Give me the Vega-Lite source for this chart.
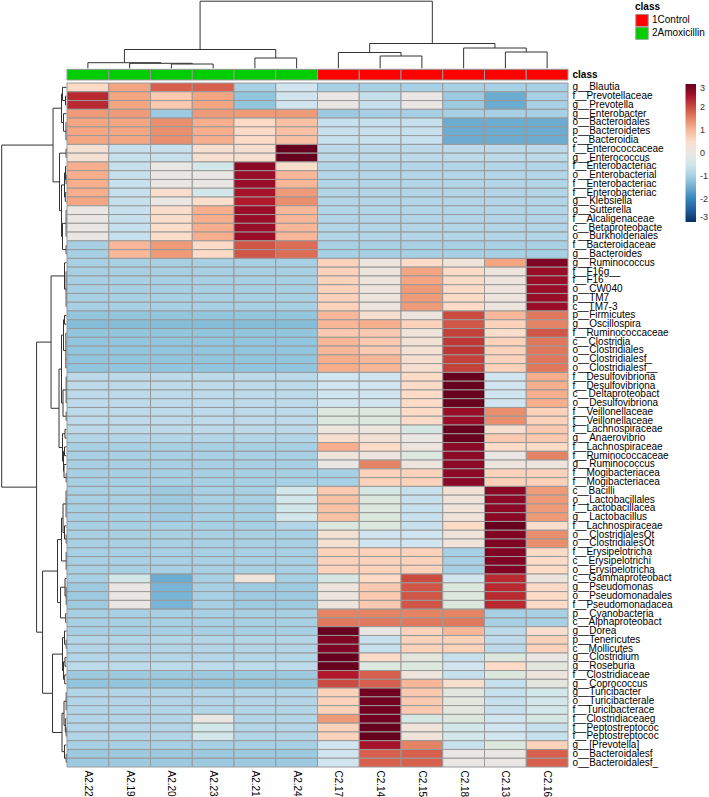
{
"$schema":"https://vega.github.io/schema/vega-lite/v6.json",
"width":568,"height":767,
"autosize":{"type":"none"},
"padding":{"left":0,"top":0,"right":141,"bottom":30},
"background":"white",
"config":{"view":{"stroke":null},"font":"Liberation Sans"},
"datasets":{
"coltree":[
{"x":2.5,"x2":3.5,"y":4.3,"y2":4.3},{"x":2.5,"x2":2.5,"y":0,"y2":4.3},{"x":3.5,"x2":3.5,"y":0,"y2":4.3},
{"x":1.5,"x2":3.0,"y":5.0,"y2":5.0},{"x":1.5,"x2":1.5,"y":0,"y2":5.0},{"x":3.0,"x2":3.0,"y":4.3,"y2":5.0},
{"x":0.5,"x2":2.25,"y":5.6,"y2":5.6},{"x":0.5,"x2":0.5,"y":0,"y2":5.6},{"x":2.25,"x2":2.25,"y":5.0,"y2":5.6},
{"x":4.5,"x2":5.5,"y":10.3,"y2":10.3},{"x":4.5,"x2":4.5,"y":0,"y2":10.3},{"x":5.5,"x2":5.5,"y":0,"y2":10.3},
{"x":1.375,"x2":5.0,"y":18.8,"y2":18.8},{"x":1.375,"x2":1.375,"y":5.6,"y2":18.8},{"x":5.0,"x2":5.0,"y":10.3,"y2":18.8},
{"x":7.5,"x2":8.5,"y":12.3,"y2":12.3},{"x":7.5,"x2":7.5,"y":0,"y2":12.3},{"x":8.5,"x2":8.5,"y":0,"y2":12.3},
{"x":6.5,"x2":8.0,"y":15.8,"y2":15.8},{"x":6.5,"x2":6.5,"y":0,"y2":15.8},{"x":8.0,"x2":8.0,"y":12.3,"y2":15.8},
{"x":10.5,"x2":11.5,"y":16.3,"y2":16.3},{"x":10.5,"x2":10.5,"y":0,"y2":16.3},{"x":11.5,"x2":11.5,"y":0,"y2":16.3},
{"x":9.5,"x2":11.0,"y":20.3,"y2":20.3},{"x":9.5,"x2":9.5,"y":0,"y2":20.3},{"x":11.0,"x2":11.0,"y":16.3,"y2":20.3},
{"x":7.25,"x2":10.25,"y":24.8,"y2":24.8},{"x":7.25,"x2":7.25,"y":15.8,"y2":24.8},{"x":10.25,"x2":10.25,"y":20.3,"y2":24.8},
{"x":3.1875,"x2":8.75,"y":67.1,"y2":67.1},{"x":3.1875,"x2":3.1875,"y":18.8,"y2":67.1},{"x":8.75,"x2":8.75,"y":24.8,"y2":67.1}
],
"rowtree":[
{"x":0,"x2":1,"y":1.5,"y2":1.5},{"x":0,"x2":1,"y":2.5,"y2":2.5},{"x":1,"x2":1,"y":1.5,"y2":2.5},
{"x":0,"x2":4,"y":0.5,"y2":0.5},{"x":1,"x2":4,"y":2,"y2":2},{"x":4,"x2":4,"y":0.5,"y2":2},
{"x":0,"x2":0.5,"y":4.5,"y2":4.5},{"x":0,"x2":0.5,"y":5.5,"y2":5.5},{"x":0,"x2":0.5,"y":6.5,"y2":6.5},{"x":0.5,"x2":0.5,"y":4.5,"y2":6.5},
{"x":0,"x2":3,"y":3.5,"y2":3.5},{"x":0.5,"x2":3,"y":5.5,"y2":5.5},{"x":3,"x2":3,"y":3.5,"y2":5.5},
{"x":4,"x2":5,"y":1.25,"y2":1.25},{"x":3,"x2":5,"y":4.5,"y2":4.5},{"x":5,"x2":5,"y":1.25,"y2":4.5},
{"x":0,"x2":0.4,"y":7.5,"y2":7.5},{"x":0,"x2":0.4,"y":8.5,"y2":8.5},{"x":0.4,"x2":0.4,"y":7.5,"y2":8.5},
{"x":0,"x2":0.4,"y":10.5,"y2":10.5},{"x":0,"x2":0.4,"y":11.5,"y2":11.5},{"x":0.4,"x2":0.4,"y":10.5,"y2":11.5},
{"x":0,"x2":1,"y":9.5,"y2":9.5},{"x":0.4,"x2":1,"y":11,"y2":11},{"x":1,"x2":1,"y":9.5,"y2":11},
{"x":0,"x2":1.2,"y":12.5,"y2":12.5},{"x":0,"x2":1.2,"y":13.5,"y2":13.5},{"x":1.2,"x2":1.2,"y":12.5,"y2":13.5},
{"x":1,"x2":2,"y":10.25,"y2":10.25},{"x":1.2,"x2":2,"y":13,"y2":13},{"x":2,"x2":2,"y":10.25,"y2":13},
{"x":0,"x2":0.4,"y":14.5,"y2":14.5},{"x":0,"x2":0.4,"y":15.5,"y2":15.5},{"x":0,"x2":0.4,"y":16.5,"y2":16.5},{"x":0,"x2":0.4,"y":17.5,"y2":17.5},{"x":0.4,"x2":0.4,"y":14.5,"y2":17.5},
{"x":0,"x2":0.4,"y":18.5,"y2":18.5},{"x":0,"x2":0.4,"y":19.5,"y2":19.5},{"x":0.4,"x2":0.4,"y":18.5,"y2":19.5},
{"x":0.4,"x2":4,"y":16,"y2":16},{"x":0.4,"x2":4,"y":19,"y2":19},{"x":4,"x2":4,"y":16,"y2":19},
{"x":2,"x2":5,"y":11.625,"y2":11.625},{"x":4,"x2":5,"y":17.5,"y2":17.5},{"x":5,"x2":5,"y":11.625,"y2":17.5},
{"x":0.4,"x2":7,"y":8,"y2":8},{"x":5,"x2":7,"y":14.5625,"y2":14.5625},{"x":7,"x2":7,"y":8,"y2":14.5625},
{"x":5,"x2":13.5,"y":2.875,"y2":2.875},{"x":7,"x2":13.5,"y":11.281,"y2":11.281},{"x":13.5,"x2":13.5,"y":2.875,"y2":11.281},
{"x":0,"x2":0.4,"y":21.5,"y2":21.5},{"x":0,"x2":0.4,"y":22.5,"y2":22.5},{"x":0,"x2":0.4,"y":23.5,"y2":23.5},{"x":0,"x2":0.4,"y":24.5,"y2":24.5},{"x":0,"x2":0.4,"y":25.5,"y2":25.5},{"x":0.4,"x2":0.4,"y":21.5,"y2":25.5},
{"x":0,"x2":2,"y":20.5,"y2":20.5},{"x":0.4,"x2":2,"y":23.5,"y2":23.5},{"x":2,"x2":2,"y":20.5,"y2":23.5},
{"x":0,"x2":2,"y":26.5,"y2":26.5},{"x":0,"x2":2,"y":27.5,"y2":27.5},{"x":2,"x2":2,"y":26.5,"y2":27.5},
{"x":0,"x2":0.6,"y":28.5,"y2":28.5},{"x":0,"x2":0.6,"y":29.5,"y2":29.5},{"x":0,"x2":0.6,"y":30.5,"y2":30.5},{"x":0,"x2":0.6,"y":31.5,"y2":31.5},{"x":0,"x2":0.6,"y":32.5,"y2":32.5},{"x":0.6,"x2":0.6,"y":28.5,"y2":32.5},
{"x":2,"x2":3,"y":27,"y2":27},{"x":0.6,"x2":3,"y":30.5,"y2":30.5},{"x":3,"x2":3,"y":27,"y2":30.5},
{"x":0,"x2":0.3,"y":33.5,"y2":33.5},{"x":0,"x2":0.3,"y":34.5,"y2":34.5},{"x":0,"x2":0.3,"y":35.5,"y2":35.5},{"x":0,"x2":0.3,"y":36.5,"y2":36.5},{"x":0.3,"x2":0.3,"y":33.5,"y2":36.5},
{"x":0,"x2":0.3,"y":37.5,"y2":37.5},{"x":0,"x2":0.3,"y":38.5,"y2":38.5},{"x":0.3,"x2":0.3,"y":37.5,"y2":38.5},
{"x":0.3,"x2":3.5,"y":35,"y2":35},{"x":0.3,"x2":3.5,"y":38,"y2":38},{"x":3.5,"x2":3.5,"y":35,"y2":38},
{"x":3,"x2":5,"y":28.75,"y2":28.75},{"x":3.5,"x2":5,"y":36.5,"y2":36.5},{"x":5,"x2":5,"y":28.75,"y2":36.5},
{"x":0,"x2":1.5,"y":39.5,"y2":39.5},{"x":0,"x2":1.5,"y":40.5,"y2":40.5},{"x":1.5,"x2":1.5,"y":39.5,"y2":40.5},
{"x":0,"x2":2,"y":41.5,"y2":41.5},{"x":0,"x2":2,"y":42.5,"y2":42.5},{"x":2,"x2":2,"y":41.5,"y2":42.5},
{"x":0,"x2":0.3,"y":44.5,"y2":44.5},{"x":0,"x2":0.3,"y":45.5,"y2":45.5},{"x":0.3,"x2":0.3,"y":44.5,"y2":45.5},
{"x":0,"x2":2.5,"y":43.5,"y2":43.5},{"x":0.3,"x2":2.5,"y":45,"y2":45},{"x":2.5,"x2":2.5,"y":43.5,"y2":45},
{"x":2,"x2":3,"y":42,"y2":42},{"x":2.5,"x2":3,"y":44.25,"y2":44.25},{"x":3,"x2":3,"y":42,"y2":44.25},
{"x":1.5,"x2":4,"y":40,"y2":40},{"x":3,"x2":4,"y":43.125,"y2":43.125},{"x":4,"x2":4,"y":40,"y2":43.125},
{"x":5,"x2":7.5,"y":32.625,"y2":32.625},{"x":4,"x2":7.5,"y":41.5625,"y2":41.5625},{"x":7.5,"x2":7.5,"y":32.625,"y2":41.5625},
{"x":2,"x2":15.5,"y":22,"y2":22},{"x":7.5,"x2":15.5,"y":37.094,"y2":37.094},{"x":15.5,"x2":15.5,"y":22,"y2":37.094},
{"x":0,"x2":0.4,"y":46.5,"y2":46.5},{"x":0,"x2":0.4,"y":47.5,"y2":47.5},{"x":0,"x2":0.4,"y":48.5,"y2":48.5},{"x":0,"x2":0.4,"y":49.5,"y2":49.5},{"x":0.4,"x2":0.4,"y":46.5,"y2":49.5},
{"x":0,"x2":0.3,"y":51.5,"y2":51.5},{"x":0,"x2":0.3,"y":52.5,"y2":52.5},{"x":0.3,"x2":0.3,"y":51.5,"y2":52.5},
{"x":0,"x2":2,"y":50.5,"y2":50.5},{"x":0.3,"x2":2,"y":52,"y2":52},{"x":2,"x2":2,"y":50.5,"y2":52},
{"x":0.4,"x2":3.5,"y":48,"y2":48},{"x":2,"x2":3.5,"y":51.25,"y2":51.25},{"x":3.5,"x2":3.5,"y":48,"y2":51.25},
{"x":0,"x2":0.3,"y":53.5,"y2":53.5},{"x":0,"x2":0.3,"y":54.5,"y2":54.5},{"x":0,"x2":0.3,"y":55.5,"y2":55.5},{"x":0.3,"x2":0.3,"y":53.5,"y2":55.5},
{"x":3.5,"x2":5,"y":49.625,"y2":49.625},{"x":0.3,"x2":5,"y":54.5,"y2":54.5},{"x":5,"x2":5,"y":49.625,"y2":54.5},
{"x":0,"x2":0.3,"y":57.5,"y2":57.5},{"x":0,"x2":0.3,"y":58.5,"y2":58.5},{"x":0,"x2":0.3,"y":59.5,"y2":59.5},{"x":0.3,"x2":0.3,"y":57.5,"y2":59.5},
{"x":0,"x2":1.5,"y":56.5,"y2":56.5},{"x":0.3,"x2":1.5,"y":58.5,"y2":58.5},{"x":1.5,"x2":1.5,"y":56.5,"y2":58.5},
{"x":0,"x2":0.8,"y":60.5,"y2":60.5},{"x":0,"x2":0.8,"y":61.5,"y2":61.5},{"x":0.8,"x2":0.8,"y":60.5,"y2":61.5},
{"x":1.5,"x2":6,"y":57.5,"y2":57.5},{"x":0.8,"x2":6,"y":61,"y2":61},{"x":6,"x2":6,"y":57.5,"y2":61},
{"x":5,"x2":9,"y":52.0625,"y2":52.0625},{"x":6,"x2":9,"y":59.25,"y2":59.25},{"x":9,"x2":9,"y":52.0625,"y2":59.25},
{"x":0,"x2":0.3,"y":63.5,"y2":63.5},{"x":0,"x2":0.3,"y":64.5,"y2":64.5},{"x":0.3,"x2":0.3,"y":63.5,"y2":64.5},
{"x":0,"x2":2,"y":62.5,"y2":62.5},{"x":0.3,"x2":2,"y":64,"y2":64},{"x":2,"x2":2,"y":62.5,"y2":64},
{"x":0,"x2":1.5,"y":65.5,"y2":65.5},{"x":0,"x2":1.5,"y":66.5,"y2":66.5},{"x":1.5,"x2":1.5,"y":65.5,"y2":66.5},
{"x":0,"x2":1.8,"y":67.5,"y2":67.5},{"x":0,"x2":1.8,"y":68.5,"y2":68.5},{"x":1.8,"x2":1.8,"y":67.5,"y2":68.5},
{"x":1.5,"x2":3,"y":66,"y2":66},{"x":1.8,"x2":3,"y":68,"y2":68},{"x":3,"x2":3,"y":66,"y2":68},
{"x":2,"x2":4,"y":63.25,"y2":63.25},{"x":3,"x2":4,"y":67,"y2":67},{"x":4,"x2":4,"y":63.25,"y2":67},
{"x":0,"x2":0.3,"y":69.5,"y2":69.5},{"x":0,"x2":0.3,"y":70.5,"y2":70.5},{"x":0,"x2":0.3,"y":71.5,"y2":71.5},{"x":0.3,"x2":0.3,"y":69.5,"y2":71.5},
{"x":0,"x2":0.3,"y":73.5,"y2":73.5},{"x":0,"x2":0.3,"y":74.5,"y2":74.5},{"x":0.3,"x2":0.3,"y":73.5,"y2":74.5},
{"x":0,"x2":1.2,"y":72.5,"y2":72.5},{"x":0.3,"x2":1.2,"y":74,"y2":74},{"x":1.2,"x2":1.2,"y":72.5,"y2":74},
{"x":0.3,"x2":2.5,"y":70.5,"y2":70.5},{"x":1.2,"x2":2.5,"y":73.25,"y2":73.25},{"x":2.5,"x2":2.5,"y":70.5,"y2":73.25},
{"x":0,"x2":0.3,"y":76.5,"y2":76.5},{"x":0,"x2":0.3,"y":77.5,"y2":77.5},{"x":0.3,"x2":0.3,"y":76.5,"y2":77.5},
{"x":0,"x2":2,"y":75.5,"y2":75.5},{"x":0.3,"x2":2,"y":77,"y2":77},{"x":2,"x2":2,"y":75.5,"y2":77},
{"x":2.5,"x2":4.5,"y":71.875,"y2":71.875},{"x":2,"x2":4.5,"y":76.25,"y2":76.25},{"x":4.5,"x2":4.5,"y":71.875,"y2":76.25},
{"x":4,"x2":14,"y":65.125,"y2":65.125},{"x":4.5,"x2":14,"y":74.0625,"y2":74.0625},{"x":14,"x2":14,"y":65.125,"y2":74.0625},
{"x":9,"x2":24,"y":55.656,"y2":55.656},{"x":14,"x2":24,"y":69.594,"y2":69.594},{"x":24,"x2":24,"y":55.656,"y2":69.594},
{"x":15.5,"x2":30,"y":29.547,"y2":29.547},{"x":24,"x2":30,"y":62.625,"y2":62.625},{"x":30,"x2":30,"y":29.547,"y2":62.625},
{"x":13.5,"x2":65,"y":7.078,"y2":7.078},{"x":30,"x2":65,"y":46.086,"y2":46.086},{"x":65,"x2":65,"y":7.078,"y2":46.086}
],
"cls":[
{"c":"A2.22","g":"2Amoxicillin","k":"class"},{"c":"A2.19","g":"2Amoxicillin","k":"class"},{"c":"A2.20","g":"2Amoxicillin","k":"class"},{"c":"A2.23","g":"2Amoxicillin","k":"class"},{"c":"A2.21","g":"2Amoxicillin","k":"class"},{"c":"A2.24","g":"2Amoxicillin","k":"class"},
{"c":"C2.17","g":"1Control","k":"class"},{"c":"C2.14","g":"1Control","k":"class"},{"c":"C2.15","g":"1Control","k":"class"},{"c":"C2.18","g":"1Control","k":"class"},{"c":"C2.13","g":"1Control","k":"class"},{"c":"C2.16","g":"1Control","k":"class"}
],
"cells":[
{"t":"00|g__Blautia","c":"A2.22","v":0.6},{"t":"00|g__Blautia","c":"A2.19","v":1.2},{"t":"00|g__Blautia","c":"A2.20","v":1.8},{"t":"00|g__Blautia","c":"A2.23","v":1.8},{"t":"00|g__Blautia","c":"A2.21","v":-1.0},{"t":"00|g__Blautia","c":"A2.24","v":-0.6},{"t":"00|g__Blautia","c":"C2.17","v":-1.0},{"t":"00|g__Blautia","c":"C2.14","v":-1.0},{"t":"00|g__Blautia","c":"C2.15","v":-1.0},{"t":"00|g__Blautia","c":"C2.18","v":-1.0},{"t":"00|g__Blautia","c":"C2.13","v":-1.0},{"t":"00|g__Blautia","c":"C2.16","v":-1.0},
{"t":"01|f__Prevotellaceae","c":"A2.22","v":2.3},{"t":"01|f__Prevotellaceae","c":"A2.19","v":1.2},{"t":"01|f__Prevotellaceae","c":"A2.20","v":0.8},{"t":"01|f__Prevotellaceae","c":"A2.23","v":1.2},{"t":"01|f__Prevotellaceae","c":"A2.21","v":-1.2},{"t":"01|f__Prevotellaceae","c":"A2.24","v":-0.6},{"t":"01|f__Prevotellaceae","c":"C2.17","v":0.0},{"t":"01|f__Prevotellaceae","c":"C2.14","v":-0.7},{"t":"01|f__Prevotellaceae","c":"C2.15","v":0.0},{"t":"01|f__Prevotellaceae","c":"C2.18","v":-1.1},{"t":"01|f__Prevotellaceae","c":"C2.13","v":-1.5},{"t":"01|f__Prevotellaceae","c":"C2.16","v":-1.0},
{"t":"02|g__Prevotella","c":"A2.22","v":2.3},{"t":"02|g__Prevotella","c":"A2.19","v":1.2},{"t":"02|g__Prevotella","c":"A2.20","v":0.8},{"t":"02|g__Prevotella","c":"A2.23","v":1.2},{"t":"02|g__Prevotella","c":"A2.21","v":-1.2},{"t":"02|g__Prevotella","c":"A2.24","v":-0.6},{"t":"02|g__Prevotella","c":"C2.17","v":0.0},{"t":"02|g__Prevotella","c":"C2.14","v":-0.7},{"t":"02|g__Prevotella","c":"C2.15","v":0.0},{"t":"02|g__Prevotella","c":"C2.18","v":-1.1},{"t":"02|g__Prevotella","c":"C2.13","v":-1.5},{"t":"02|g__Prevotella","c":"C2.16","v":-1.0},
{"t":"03|g__Enterobacter","c":"A2.22","v":1.3},{"t":"03|g__Enterobacter","c":"A2.19","v":1.3},{"t":"03|g__Enterobacter","c":"A2.20","v":-1.1},{"t":"03|g__Enterobacter","c":"A2.23","v":1.3},{"t":"03|g__Enterobacter","c":"A2.21","v":1.3},{"t":"03|g__Enterobacter","c":"A2.24","v":1.3},{"t":"03|g__Enterobacter","c":"C2.17","v":-1.1},{"t":"03|g__Enterobacter","c":"C2.14","v":-1.0},{"t":"03|g__Enterobacter","c":"C2.15","v":-1.0},{"t":"03|g__Enterobacter","c":"C2.18","v":-1.0},{"t":"03|g__Enterobacter","c":"C2.13","v":-1.0},{"t":"03|g__Enterobacter","c":"C2.16","v":-1.0},
{"t":"04|o__Bacteroidales","c":"A2.22","v":1.2},{"t":"04|o__Bacteroidales","c":"A2.19","v":1.2},{"t":"04|o__Bacteroidales","c":"A2.20","v":1.4},{"t":"04|o__Bacteroidales","c":"A2.23","v":1.1},{"t":"04|o__Bacteroidales","c":"A2.21","v":0.6},{"t":"04|o__Bacteroidales","c":"A2.24","v":0.9},{"t":"04|o__Bacteroidales","c":"C2.17","v":-0.7},{"t":"04|o__Bacteroidales","c":"C2.14","v":-0.7},{"t":"04|o__Bacteroidales","c":"C2.15","v":-0.7},{"t":"04|o__Bacteroidales","c":"C2.18","v":-1.5},{"t":"04|o__Bacteroidales","c":"C2.13","v":-1.5},{"t":"04|o__Bacteroidales","c":"C2.16","v":-1.5},
{"t":"05|p__Bacteroidetes","c":"A2.22","v":1.2},{"t":"05|p__Bacteroidetes","c":"A2.19","v":1.2},{"t":"05|p__Bacteroidetes","c":"A2.20","v":1.4},{"t":"05|p__Bacteroidetes","c":"A2.23","v":1.1},{"t":"05|p__Bacteroidetes","c":"A2.21","v":0.6},{"t":"05|p__Bacteroidetes","c":"A2.24","v":0.9},{"t":"05|p__Bacteroidetes","c":"C2.17","v":-0.7},{"t":"05|p__Bacteroidetes","c":"C2.14","v":-0.7},{"t":"05|p__Bacteroidetes","c":"C2.15","v":-0.7},{"t":"05|p__Bacteroidetes","c":"C2.18","v":-1.5},{"t":"05|p__Bacteroidetes","c":"C2.13","v":-1.5},{"t":"05|p__Bacteroidetes","c":"C2.16","v":-1.5},
{"t":"06|c__Bacteroidia","c":"A2.22","v":1.2},{"t":"06|c__Bacteroidia","c":"A2.19","v":1.2},{"t":"06|c__Bacteroidia","c":"A2.20","v":1.4},{"t":"06|c__Bacteroidia","c":"A2.23","v":1.1},{"t":"06|c__Bacteroidia","c":"A2.21","v":0.6},{"t":"06|c__Bacteroidia","c":"A2.24","v":0.9},{"t":"06|c__Bacteroidia","c":"C2.17","v":-0.7},{"t":"06|c__Bacteroidia","c":"C2.14","v":-0.7},{"t":"06|c__Bacteroidia","c":"C2.15","v":-0.7},{"t":"06|c__Bacteroidia","c":"C2.18","v":-1.5},{"t":"06|c__Bacteroidia","c":"C2.13","v":-1.5},{"t":"06|c__Bacteroidia","c":"C2.16","v":-1.5},
{"t":"07|f__Enterococcaceae","c":"A2.22","v":0.3},{"t":"07|f__Enterococcaceae","c":"A2.19","v":-0.7},{"t":"07|f__Enterococcaceae","c":"A2.20","v":-0.7},{"t":"07|f__Enterococcaceae","c":"A2.23","v":0.4},{"t":"07|f__Enterococcaceae","c":"A2.21","v":0.4},{"t":"07|f__Enterococcaceae","c":"A2.24","v":3.0},{"t":"07|f__Enterococcaceae","c":"C2.17","v":-0.8},{"t":"07|f__Enterococcaceae","c":"C2.14","v":-0.8},{"t":"07|f__Enterococcaceae","c":"C2.15","v":-0.8},{"t":"07|f__Enterococcaceae","c":"C2.18","v":-0.8},{"t":"07|f__Enterococcaceae","c":"C2.13","v":-0.8},{"t":"07|f__Enterococcaceae","c":"C2.16","v":-0.8},
{"t":"08|g__Enterococcus","c":"A2.22","v":0.3},{"t":"08|g__Enterococcus","c":"A2.19","v":-0.7},{"t":"08|g__Enterococcus","c":"A2.20","v":-0.7},{"t":"08|g__Enterococcus","c":"A2.23","v":0.4},{"t":"08|g__Enterococcus","c":"A2.21","v":0.4},{"t":"08|g__Enterococcus","c":"A2.24","v":3.0},{"t":"08|g__Enterococcus","c":"C2.17","v":-0.8},{"t":"08|g__Enterococcus","c":"C2.14","v":-0.8},{"t":"08|g__Enterococcus","c":"C2.15","v":-0.8},{"t":"08|g__Enterococcus","c":"C2.18","v":-0.8},{"t":"08|g__Enterococcus","c":"C2.13","v":-0.8},{"t":"08|g__Enterococcus","c":"C2.16","v":-0.8},
{"t":"09|f__Enterobacteriac","c":"A2.22","v":1.1},{"t":"09|f__Enterobacteriac","c":"A2.19","v":-0.7},{"t":"09|f__Enterobacteriac","c":"A2.20","v":0.0},{"t":"09|f__Enterobacteriac","c":"A2.23","v":-0.5},{"t":"09|f__Enterobacteriac","c":"A2.21","v":2.7},{"t":"09|f__Enterobacteriac","c":"A2.24","v":0.5},{"t":"09|f__Enterobacteriac","c":"C2.17","v":-0.9},{"t":"09|f__Enterobacteriac","c":"C2.14","v":-0.9},{"t":"09|f__Enterobacteriac","c":"C2.15","v":-0.9},{"t":"09|f__Enterobacteriac","c":"C2.18","v":-0.9},{"t":"09|f__Enterobacteriac","c":"C2.13","v":-0.9},{"t":"09|f__Enterobacteriac","c":"C2.16","v":-0.9},
{"t":"10|o__Enterobacterial","c":"A2.22","v":1.1},{"t":"10|o__Enterobacterial","c":"A2.19","v":-0.7},{"t":"10|o__Enterobacterial","c":"A2.20","v":0.0},{"t":"10|o__Enterobacterial","c":"A2.23","v":0.0},{"t":"10|o__Enterobacterial","c":"A2.21","v":2.6},{"t":"10|o__Enterobacterial","c":"A2.24","v":1.0},{"t":"10|o__Enterobacterial","c":"C2.17","v":-0.9},{"t":"10|o__Enterobacterial","c":"C2.14","v":-0.9},{"t":"10|o__Enterobacterial","c":"C2.15","v":-0.9},{"t":"10|o__Enterobacterial","c":"C2.18","v":-0.9},{"t":"10|o__Enterobacterial","c":"C2.13","v":-0.9},{"t":"10|o__Enterobacterial","c":"C2.16","v":-0.9},
{"t":"11|f__Enterobacteriac","c":"A2.22","v":1.1},{"t":"11|f__Enterobacteriac","c":"A2.19","v":-0.7},{"t":"11|f__Enterobacteriac","c":"A2.20","v":0.0},{"t":"11|f__Enterobacteriac","c":"A2.23","v":0.0},{"t":"11|f__Enterobacteriac","c":"A2.21","v":2.6},{"t":"11|f__Enterobacteriac","c":"A2.24","v":1.0},{"t":"11|f__Enterobacteriac","c":"C2.17","v":-0.9},{"t":"11|f__Enterobacteriac","c":"C2.14","v":-0.9},{"t":"11|f__Enterobacteriac","c":"C2.15","v":-0.9},{"t":"11|f__Enterobacteriac","c":"C2.18","v":-0.9},{"t":"11|f__Enterobacteriac","c":"C2.13","v":-0.9},{"t":"11|f__Enterobacteriac","c":"C2.16","v":-0.9},
{"t":"12|f__Enterobacteriac","c":"A2.22","v":1.1},{"t":"12|f__Enterobacteriac","c":"A2.19","v":-0.7},{"t":"12|f__Enterobacteriac","c":"A2.20","v":0.5},{"t":"12|f__Enterobacteriac","c":"A2.23","v":-0.5},{"t":"12|f__Enterobacteriac","c":"A2.21","v":2.5},{"t":"12|f__Enterobacteriac","c":"A2.24","v":1.3},{"t":"12|f__Enterobacteriac","c":"C2.17","v":-0.9},{"t":"12|f__Enterobacteriac","c":"C2.14","v":-0.9},{"t":"12|f__Enterobacteriac","c":"C2.15","v":-0.9},{"t":"12|f__Enterobacteriac","c":"C2.18","v":-0.9},{"t":"12|f__Enterobacteriac","c":"C2.13","v":-0.9},{"t":"12|f__Enterobacteriac","c":"C2.16","v":-0.9},
{"t":"13|g__Klebsiella","c":"A2.22","v":1.2},{"t":"13|g__Klebsiella","c":"A2.19","v":-0.7},{"t":"13|g__Klebsiella","c":"A2.20","v":0.0},{"t":"13|g__Klebsiella","c":"A2.23","v":0.5},{"t":"13|g__Klebsiella","c":"A2.21","v":2.4},{"t":"13|g__Klebsiella","c":"A2.24","v":1.4},{"t":"13|g__Klebsiella","c":"C2.17","v":-0.9},{"t":"13|g__Klebsiella","c":"C2.14","v":-0.9},{"t":"13|g__Klebsiella","c":"C2.15","v":-0.9},{"t":"13|g__Klebsiella","c":"C2.18","v":-0.9},{"t":"13|g__Klebsiella","c":"C2.13","v":-0.9},{"t":"13|g__Klebsiella","c":"C2.16","v":-0.9},
{"t":"14|g__Sutterella","c":"A2.22","v":0.0},{"t":"14|g__Sutterella","c":"A2.19","v":-0.7},{"t":"14|g__Sutterella","c":"A2.20","v":0.5},{"t":"14|g__Sutterella","c":"A2.23","v":1.1},{"t":"14|g__Sutterella","c":"A2.21","v":2.6},{"t":"14|g__Sutterella","c":"A2.24","v":1.0},{"t":"14|g__Sutterella","c":"C2.17","v":-0.9},{"t":"14|g__Sutterella","c":"C2.14","v":-0.9},{"t":"14|g__Sutterella","c":"C2.15","v":-0.9},{"t":"14|g__Sutterella","c":"C2.18","v":-0.9},{"t":"14|g__Sutterella","c":"C2.13","v":-0.9},{"t":"14|g__Sutterella","c":"C2.16","v":-0.9},
{"t":"15|f__Alcaligenaceae","c":"A2.22","v":0.0},{"t":"15|f__Alcaligenaceae","c":"A2.19","v":-0.7},{"t":"15|f__Alcaligenaceae","c":"A2.20","v":0.5},{"t":"15|f__Alcaligenaceae","c":"A2.23","v":1.1},{"t":"15|f__Alcaligenaceae","c":"A2.21","v":2.6},{"t":"15|f__Alcaligenaceae","c":"A2.24","v":1.0},{"t":"15|f__Alcaligenaceae","c":"C2.17","v":-0.9},{"t":"15|f__Alcaligenaceae","c":"C2.14","v":-0.9},{"t":"15|f__Alcaligenaceae","c":"C2.15","v":-0.9},{"t":"15|f__Alcaligenaceae","c":"C2.18","v":-0.9},{"t":"15|f__Alcaligenaceae","c":"C2.13","v":-0.9},{"t":"15|f__Alcaligenaceae","c":"C2.16","v":-0.9},
{"t":"16|c__Betaproteobacte","c":"A2.22","v":0.0},{"t":"16|c__Betaproteobacte","c":"A2.19","v":-0.7},{"t":"16|c__Betaproteobacte","c":"A2.20","v":0.5},{"t":"16|c__Betaproteobacte","c":"A2.23","v":1.1},{"t":"16|c__Betaproteobacte","c":"A2.21","v":2.6},{"t":"16|c__Betaproteobacte","c":"A2.24","v":1.0},{"t":"16|c__Betaproteobacte","c":"C2.17","v":-0.9},{"t":"16|c__Betaproteobacte","c":"C2.14","v":-0.9},{"t":"16|c__Betaproteobacte","c":"C2.15","v":-0.9},{"t":"16|c__Betaproteobacte","c":"C2.18","v":-0.9},{"t":"16|c__Betaproteobacte","c":"C2.13","v":-0.9},{"t":"16|c__Betaproteobacte","c":"C2.16","v":-0.9},
{"t":"17|o__Burkholderiales","c":"A2.22","v":0.0},{"t":"17|o__Burkholderiales","c":"A2.19","v":-0.7},{"t":"17|o__Burkholderiales","c":"A2.20","v":0.5},{"t":"17|o__Burkholderiales","c":"A2.23","v":1.1},{"t":"17|o__Burkholderiales","c":"A2.21","v":2.6},{"t":"17|o__Burkholderiales","c":"A2.24","v":1.0},{"t":"17|o__Burkholderiales","c":"C2.17","v":-0.9},{"t":"17|o__Burkholderiales","c":"C2.14","v":-0.9},{"t":"17|o__Burkholderiales","c":"C2.15","v":-0.9},{"t":"17|o__Burkholderiales","c":"C2.18","v":-0.9},{"t":"17|o__Burkholderiales","c":"C2.13","v":-0.9},{"t":"17|o__Burkholderiales","c":"C2.16","v":-0.9},
{"t":"18|f__Bacteroidaceae","c":"A2.22","v":-1.0},{"t":"18|f__Bacteroidaceae","c":"A2.19","v":1.0},{"t":"18|f__Bacteroidaceae","c":"A2.20","v":1.3},{"t":"18|f__Bacteroidaceae","c":"A2.23","v":0.6},{"t":"18|f__Bacteroidaceae","c":"A2.21","v":1.9},{"t":"18|f__Bacteroidaceae","c":"A2.24","v":1.7},{"t":"18|f__Bacteroidaceae","c":"C2.17","v":-1.0},{"t":"18|f__Bacteroidaceae","c":"C2.14","v":-1.0},{"t":"18|f__Bacteroidaceae","c":"C2.15","v":-1.0},{"t":"18|f__Bacteroidaceae","c":"C2.18","v":-1.0},{"t":"18|f__Bacteroidaceae","c":"C2.13","v":-1.0},{"t":"18|f__Bacteroidaceae","c":"C2.16","v":-1.0},
{"t":"19|g__Bacteroides","c":"A2.22","v":-1.0},{"t":"19|g__Bacteroides","c":"A2.19","v":1.0},{"t":"19|g__Bacteroides","c":"A2.20","v":1.3},{"t":"19|g__Bacteroides","c":"A2.23","v":0.6},{"t":"19|g__Bacteroides","c":"A2.21","v":1.9},{"t":"19|g__Bacteroides","c":"A2.24","v":1.7},{"t":"19|g__Bacteroides","c":"C2.17","v":-1.0},{"t":"19|g__Bacteroides","c":"C2.14","v":-1.0},{"t":"19|g__Bacteroides","c":"C2.15","v":-1.0},{"t":"19|g__Bacteroides","c":"C2.18","v":-1.0},{"t":"19|g__Bacteroides","c":"C2.13","v":-1.0},{"t":"19|g__Bacteroides","c":"C2.16","v":-1.0},
{"t":"20|g__Ruminococcus","c":"A2.22","v":-1.0},{"t":"20|g__Ruminococcus","c":"A2.19","v":-1.0},{"t":"20|g__Ruminococcus","c":"A2.20","v":-1.0},{"t":"20|g__Ruminococcus","c":"A2.23","v":-1.0},{"t":"20|g__Ruminococcus","c":"A2.21","v":-1.0},{"t":"20|g__Ruminococcus","c":"A2.24","v":-1.0},{"t":"20|g__Ruminococcus","c":"C2.17","v":0.7},{"t":"20|g__Ruminococcus","c":"C2.14","v":0.1},{"t":"20|g__Ruminococcus","c":"C2.15","v":0.6},{"t":"20|g__Ruminococcus","c":"C2.18","v":0.2},{"t":"20|g__Ruminococcus","c":"C2.13","v":1.2},{"t":"20|g__Ruminococcus","c":"C2.16","v":2.8},
{"t":"21|f__F16g__","c":"A2.22","v":-1.0},{"t":"21|f__F16g__","c":"A2.19","v":-1.0},{"t":"21|f__F16g__","c":"A2.20","v":-1.0},{"t":"21|f__F16g__","c":"A2.23","v":-1.0},{"t":"21|f__F16g__","c":"A2.21","v":-1.0},{"t":"21|f__F16g__","c":"A2.24","v":-1.0},{"t":"21|f__F16g__","c":"C2.17","v":0.7},{"t":"21|f__F16g__","c":"C2.14","v":0.1},{"t":"21|f__F16g__","c":"C2.15","v":1.2},{"t":"21|f__F16g__","c":"C2.18","v":0.6},{"t":"21|f__F16g__","c":"C2.13","v":0.1},{"t":"21|f__F16g__","c":"C2.16","v":2.6},
{"t":"22|f__F16","c":"A2.22","v":-1.0},{"t":"22|f__F16","c":"A2.19","v":-1.0},{"t":"22|f__F16","c":"A2.20","v":-1.0},{"t":"22|f__F16","c":"A2.23","v":-1.0},{"t":"22|f__F16","c":"A2.21","v":-1.0},{"t":"22|f__F16","c":"A2.24","v":-1.0},{"t":"22|f__F16","c":"C2.17","v":0.7},{"t":"22|f__F16","c":"C2.14","v":0.1},{"t":"22|f__F16","c":"C2.15","v":1.2},{"t":"22|f__F16","c":"C2.18","v":0.6},{"t":"22|f__F16","c":"C2.13","v":0.1},{"t":"22|f__F16","c":"C2.16","v":2.6},
{"t":"23|o__CW040","c":"A2.22","v":-1.0},{"t":"23|o__CW040","c":"A2.19","v":-1.0},{"t":"23|o__CW040","c":"A2.20","v":-1.0},{"t":"23|o__CW040","c":"A2.23","v":-1.0},{"t":"23|o__CW040","c":"A2.21","v":-1.0},{"t":"23|o__CW040","c":"A2.24","v":-1.0},{"t":"23|o__CW040","c":"C2.17","v":0.7},{"t":"23|o__CW040","c":"C2.14","v":0.1},{"t":"23|o__CW040","c":"C2.15","v":1.3},{"t":"23|o__CW040","c":"C2.18","v":0.6},{"t":"23|o__CW040","c":"C2.13","v":0.1},{"t":"23|o__CW040","c":"C2.16","v":2.6},
{"t":"24|p__TM7","c":"A2.22","v":-1.0},{"t":"24|p__TM7","c":"A2.19","v":-1.0},{"t":"24|p__TM7","c":"A2.20","v":-1.0},{"t":"24|p__TM7","c":"A2.23","v":-1.0},{"t":"24|p__TM7","c":"A2.21","v":-1.0},{"t":"24|p__TM7","c":"A2.24","v":-1.0},{"t":"24|p__TM7","c":"C2.17","v":0.7},{"t":"24|p__TM7","c":"C2.14","v":0.1},{"t":"24|p__TM7","c":"C2.15","v":1.3},{"t":"24|p__TM7","c":"C2.18","v":0.6},{"t":"24|p__TM7","c":"C2.13","v":0.1},{"t":"24|p__TM7","c":"C2.16","v":2.6},
{"t":"25|c__TM7-3","c":"A2.22","v":-1.0},{"t":"25|c__TM7-3","c":"A2.19","v":-1.0},{"t":"25|c__TM7-3","c":"A2.20","v":-1.0},{"t":"25|c__TM7-3","c":"A2.23","v":-1.0},{"t":"25|c__TM7-3","c":"A2.21","v":-1.0},{"t":"25|c__TM7-3","c":"A2.24","v":-1.0},{"t":"25|c__TM7-3","c":"C2.17","v":0.7},{"t":"25|c__TM7-3","c":"C2.14","v":0.1},{"t":"25|c__TM7-3","c":"C2.15","v":1.3},{"t":"25|c__TM7-3","c":"C2.18","v":0.6},{"t":"25|c__TM7-3","c":"C2.13","v":0.1},{"t":"25|c__TM7-3","c":"C2.16","v":2.6},
{"t":"26|p__Firmicutes","c":"A2.22","v":-1.2},{"t":"26|p__Firmicutes","c":"A2.19","v":-1.2},{"t":"26|p__Firmicutes","c":"A2.20","v":-1.2},{"t":"26|p__Firmicutes","c":"A2.23","v":-1.2},{"t":"26|p__Firmicutes","c":"A2.21","v":-1.2},{"t":"26|p__Firmicutes","c":"A2.24","v":-1.2},{"t":"26|p__Firmicutes","c":"C2.17","v":1.0},{"t":"26|p__Firmicutes","c":"C2.14","v":0.4},{"t":"26|p__Firmicutes","c":"C2.15","v":0.1},{"t":"26|p__Firmicutes","c":"C2.18","v":2.0},{"t":"26|p__Firmicutes","c":"C2.13","v":1.0},{"t":"26|p__Firmicutes","c":"C2.16","v":1.6},
{"t":"27|g__Oscillospira","c":"A2.22","v":-1.3},{"t":"27|g__Oscillospira","c":"A2.19","v":-1.3},{"t":"27|g__Oscillospira","c":"A2.20","v":-1.3},{"t":"27|g__Oscillospira","c":"A2.23","v":-1.3},{"t":"27|g__Oscillospira","c":"A2.21","v":-1.3},{"t":"27|g__Oscillospira","c":"A2.24","v":-1.3},{"t":"27|g__Oscillospira","c":"C2.17","v":1.0},{"t":"27|g__Oscillospira","c":"C2.14","v":1.1},{"t":"27|g__Oscillospira","c":"C2.15","v":0.7},{"t":"27|g__Oscillospira","c":"C2.18","v":1.9},{"t":"27|g__Oscillospira","c":"C2.13","v":0.7},{"t":"27|g__Oscillospira","c":"C2.16","v":1.5},
{"t":"28|f__Ruminococcaceae","c":"A2.22","v":-1.2},{"t":"28|f__Ruminococcaceae","c":"A2.19","v":-1.2},{"t":"28|f__Ruminococcaceae","c":"A2.20","v":-1.2},{"t":"28|f__Ruminococcaceae","c":"A2.23","v":-1.2},{"t":"28|f__Ruminococcaceae","c":"A2.21","v":-1.2},{"t":"28|f__Ruminococcaceae","c":"A2.24","v":-1.2},{"t":"28|f__Ruminococcaceae","c":"C2.17","v":0.8},{"t":"28|f__Ruminococcaceae","c":"C2.14","v":0.8},{"t":"28|f__Ruminococcaceae","c":"C2.15","v":0.2},{"t":"28|f__Ruminococcaceae","c":"C2.18","v":2.1},{"t":"28|f__Ruminococcaceae","c":"C2.13","v":0.5},{"t":"28|f__Ruminococcaceae","c":"C2.16","v":1.9},
{"t":"29|c__Clostridia","c":"A2.22","v":-1.2},{"t":"29|c__Clostridia","c":"A2.19","v":-1.2},{"t":"29|c__Clostridia","c":"A2.20","v":-1.2},{"t":"29|c__Clostridia","c":"A2.23","v":-1.2},{"t":"29|c__Clostridia","c":"A2.21","v":-1.2},{"t":"29|c__Clostridia","c":"A2.24","v":-1.2},{"t":"29|c__Clostridia","c":"C2.17","v":1.0},{"t":"29|c__Clostridia","c":"C2.14","v":0.8},{"t":"29|c__Clostridia","c":"C2.15","v":0.3},{"t":"29|c__Clostridia","c":"C2.18","v":2.2},{"t":"29|c__Clostridia","c":"C2.13","v":0.7},{"t":"29|c__Clostridia","c":"C2.16","v":1.6},
{"t":"30|o__Clostridiales","c":"A2.22","v":-1.2},{"t":"30|o__Clostridiales","c":"A2.19","v":-1.2},{"t":"30|o__Clostridiales","c":"A2.20","v":-1.2},{"t":"30|o__Clostridiales","c":"A2.23","v":-1.2},{"t":"30|o__Clostridiales","c":"A2.21","v":-1.2},{"t":"30|o__Clostridiales","c":"A2.24","v":-1.2},{"t":"30|o__Clostridiales","c":"C2.17","v":1.0},{"t":"30|o__Clostridiales","c":"C2.14","v":0.8},{"t":"30|o__Clostridiales","c":"C2.15","v":0.3},{"t":"30|o__Clostridiales","c":"C2.18","v":2.2},{"t":"30|o__Clostridiales","c":"C2.13","v":0.7},{"t":"30|o__Clostridiales","c":"C2.16","v":1.6},
{"t":"31|o__Clostridialesf_","c":"A2.22","v":-1.2},{"t":"31|o__Clostridialesf_","c":"A2.19","v":-1.2},{"t":"31|o__Clostridialesf_","c":"A2.20","v":-1.2},{"t":"31|o__Clostridialesf_","c":"A2.23","v":-1.2},{"t":"31|o__Clostridialesf_","c":"A2.21","v":-1.2},{"t":"31|o__Clostridialesf_","c":"A2.24","v":-1.2},{"t":"31|o__Clostridialesf_","c":"C2.17","v":1.1},{"t":"31|o__Clostridialesf_","c":"C2.14","v":1.0},{"t":"31|o__Clostridialesf_","c":"C2.15","v":0.4},{"t":"31|o__Clostridialesf_","c":"C2.18","v":2.1},{"t":"31|o__Clostridialesf_","c":"C2.13","v":0.7},{"t":"31|o__Clostridialesf_","c":"C2.16","v":1.6},
{"t":"32|o__Clostridialesf__","c":"A2.22","v":-1.2},{"t":"32|o__Clostridialesf__","c":"A2.19","v":-1.2},{"t":"32|o__Clostridialesf__","c":"A2.20","v":-1.2},{"t":"32|o__Clostridialesf__","c":"A2.23","v":-1.2},{"t":"32|o__Clostridialesf__","c":"A2.21","v":-1.2},{"t":"32|o__Clostridialesf__","c":"A2.24","v":-1.2},{"t":"32|o__Clostridialesf__","c":"C2.17","v":1.1},{"t":"32|o__Clostridialesf__","c":"C2.14","v":1.0},{"t":"32|o__Clostridialesf__","c":"C2.15","v":0.4},{"t":"32|o__Clostridialesf__","c":"C2.18","v":2.1},{"t":"32|o__Clostridialesf__","c":"C2.13","v":0.7},{"t":"32|o__Clostridialesf__","c":"C2.16","v":1.6},
{"t":"33|f__Desulfovibriona","c":"A2.22","v":-0.8},{"t":"33|f__Desulfovibriona","c":"A2.19","v":-0.8},{"t":"33|f__Desulfovibriona","c":"A2.20","v":-0.8},{"t":"33|f__Desulfovibriona","c":"A2.23","v":-0.8},{"t":"33|f__Desulfovibriona","c":"A2.21","v":-0.8},{"t":"33|f__Desulfovibriona","c":"A2.24","v":-0.8},{"t":"33|f__Desulfovibriona","c":"C2.17","v":-0.6},{"t":"33|f__Desulfovibriona","c":"C2.14","v":-0.6},{"t":"33|f__Desulfovibriona","c":"C2.15","v":0.6},{"t":"33|f__Desulfovibriona","c":"C2.18","v":3.0},{"t":"33|f__Desulfovibriona","c":"C2.13","v":-0.6},{"t":"33|f__Desulfovibriona","c":"C2.16","v":1.1},
{"t":"34|f__Desulfovibriona","c":"A2.22","v":-0.8},{"t":"34|f__Desulfovibriona","c":"A2.19","v":-0.8},{"t":"34|f__Desulfovibriona","c":"A2.20","v":-0.8},{"t":"34|f__Desulfovibriona","c":"A2.23","v":-0.8},{"t":"34|f__Desulfovibriona","c":"A2.21","v":-0.8},{"t":"34|f__Desulfovibriona","c":"A2.24","v":-0.8},{"t":"34|f__Desulfovibriona","c":"C2.17","v":-0.6},{"t":"34|f__Desulfovibriona","c":"C2.14","v":-0.6},{"t":"34|f__Desulfovibriona","c":"C2.15","v":0.6},{"t":"34|f__Desulfovibriona","c":"C2.18","v":3.0},{"t":"34|f__Desulfovibriona","c":"C2.13","v":-0.6},{"t":"34|f__Desulfovibriona","c":"C2.16","v":1.1},
{"t":"35|c__Deltaproteobact","c":"A2.22","v":-0.8},{"t":"35|c__Deltaproteobact","c":"A2.19","v":-0.8},{"t":"35|c__Deltaproteobact","c":"A2.20","v":-0.8},{"t":"35|c__Deltaproteobact","c":"A2.23","v":-0.8},{"t":"35|c__Deltaproteobact","c":"A2.21","v":-0.8},{"t":"35|c__Deltaproteobact","c":"A2.24","v":-0.8},{"t":"35|c__Deltaproteobact","c":"C2.17","v":-0.6},{"t":"35|c__Deltaproteobact","c":"C2.14","v":-0.6},{"t":"35|c__Deltaproteobact","c":"C2.15","v":0.6},{"t":"35|c__Deltaproteobact","c":"C2.18","v":3.0},{"t":"35|c__Deltaproteobact","c":"C2.13","v":-0.6},{"t":"35|c__Deltaproteobact","c":"C2.16","v":1.1},
{"t":"36|o__Desulfovibriona","c":"A2.22","v":-0.8},{"t":"36|o__Desulfovibriona","c":"A2.19","v":-0.8},{"t":"36|o__Desulfovibriona","c":"A2.20","v":-0.8},{"t":"36|o__Desulfovibriona","c":"A2.23","v":-0.8},{"t":"36|o__Desulfovibriona","c":"A2.21","v":-0.8},{"t":"36|o__Desulfovibriona","c":"A2.24","v":-0.8},{"t":"36|o__Desulfovibriona","c":"C2.17","v":-0.6},{"t":"36|o__Desulfovibriona","c":"C2.14","v":-0.6},{"t":"36|o__Desulfovibriona","c":"C2.15","v":0.6},{"t":"36|o__Desulfovibriona","c":"C2.18","v":3.0},{"t":"36|o__Desulfovibriona","c":"C2.13","v":-0.6},{"t":"36|o__Desulfovibriona","c":"C2.16","v":1.1},
{"t":"37|f__Veillonellaceae","c":"A2.22","v":-0.8},{"t":"37|f__Veillonellaceae","c":"A2.19","v":-0.8},{"t":"37|f__Veillonellaceae","c":"A2.20","v":-0.8},{"t":"37|f__Veillonellaceae","c":"A2.23","v":-0.8},{"t":"37|f__Veillonellaceae","c":"A2.21","v":-0.8},{"t":"37|f__Veillonellaceae","c":"A2.24","v":-0.8},{"t":"37|f__Veillonellaceae","c":"C2.17","v":-0.3},{"t":"37|f__Veillonellaceae","c":"C2.14","v":-0.3},{"t":"37|f__Veillonellaceae","c":"C2.15","v":0.6},{"t":"37|f__Veillonellaceae","c":"C2.18","v":2.6},{"t":"37|f__Veillonellaceae","c":"C2.13","v":1.4},{"t":"37|f__Veillonellaceae","c":"C2.16","v":0.7},
{"t":"38|f__Veillonellaceae","c":"A2.22","v":-0.8},{"t":"38|f__Veillonellaceae","c":"A2.19","v":-0.8},{"t":"38|f__Veillonellaceae","c":"A2.20","v":-0.8},{"t":"38|f__Veillonellaceae","c":"A2.23","v":-0.8},{"t":"38|f__Veillonellaceae","c":"A2.21","v":-0.8},{"t":"38|f__Veillonellaceae","c":"A2.24","v":-0.8},{"t":"38|f__Veillonellaceae","c":"C2.17","v":-0.3},{"t":"38|f__Veillonellaceae","c":"C2.14","v":-0.3},{"t":"38|f__Veillonellaceae","c":"C2.15","v":0.6},{"t":"38|f__Veillonellaceae","c":"C2.18","v":2.6},{"t":"38|f__Veillonellaceae","c":"C2.13","v":1.4},{"t":"38|f__Veillonellaceae","c":"C2.16","v":0.7},
{"t":"39|f__Lachnospiraceae","c":"A2.22","v":-0.8},{"t":"39|f__Lachnospiraceae","c":"A2.19","v":-0.8},{"t":"39|f__Lachnospiraceae","c":"A2.20","v":-0.8},{"t":"39|f__Lachnospiraceae","c":"A2.23","v":-0.8},{"t":"39|f__Lachnospiraceae","c":"A2.21","v":-0.8},{"t":"39|f__Lachnospiraceae","c":"A2.24","v":-0.8},{"t":"39|f__Lachnospiraceae","c":"C2.17","v":0.1},{"t":"39|f__Lachnospiraceae","c":"C2.14","v":0.1},{"t":"39|f__Lachnospiraceae","c":"C2.15","v":-0.4},{"t":"39|f__Lachnospiraceae","c":"C2.18","v":3.0},{"t":"39|f__Lachnospiraceae","c":"C2.13","v":0.4},{"t":"39|f__Lachnospiraceae","c":"C2.16","v":0.8},
{"t":"40|g__Anaerovibrio","c":"A2.22","v":-0.9},{"t":"40|g__Anaerovibrio","c":"A2.19","v":-0.9},{"t":"40|g__Anaerovibrio","c":"A2.20","v":-0.9},{"t":"40|g__Anaerovibrio","c":"A2.23","v":-0.9},{"t":"40|g__Anaerovibrio","c":"A2.21","v":-0.9},{"t":"40|g__Anaerovibrio","c":"A2.24","v":-0.9},{"t":"40|g__Anaerovibrio","c":"C2.17","v":0.4},{"t":"40|g__Anaerovibrio","c":"C2.14","v":0.3},{"t":"40|g__Anaerovibrio","c":"C2.15","v":0.0},{"t":"40|g__Anaerovibrio","c":"C2.18","v":3.0},{"t":"40|g__Anaerovibrio","c":"C2.13","v":0.8},{"t":"40|g__Anaerovibrio","c":"C2.16","v":0.8},
{"t":"41|f__Lachnospiraceae","c":"A2.22","v":-1.0},{"t":"41|f__Lachnospiraceae","c":"A2.19","v":-1.0},{"t":"41|f__Lachnospiraceae","c":"A2.20","v":-1.0},{"t":"41|f__Lachnospiraceae","c":"A2.23","v":-1.0},{"t":"41|f__Lachnospiraceae","c":"A2.21","v":-1.0},{"t":"41|f__Lachnospiraceae","c":"A2.24","v":-1.0},{"t":"41|f__Lachnospiraceae","c":"C2.17","v":1.1},{"t":"41|f__Lachnospiraceae","c":"C2.14","v":0.6},{"t":"41|f__Lachnospiraceae","c":"C2.15","v":0.1},{"t":"41|f__Lachnospiraceae","c":"C2.18","v":2.7},{"t":"41|f__Lachnospiraceae","c":"C2.13","v":0.6},{"t":"41|f__Lachnospiraceae","c":"C2.16","v":0.6},
{"t":"42|f__Ruminococcaceae","c":"A2.22","v":-1.0},{"t":"42|f__Ruminococcaceae","c":"A2.19","v":-1.0},{"t":"42|f__Ruminococcaceae","c":"A2.20","v":-1.0},{"t":"42|f__Ruminococcaceae","c":"A2.23","v":-1.0},{"t":"42|f__Ruminococcaceae","c":"A2.21","v":-1.0},{"t":"42|f__Ruminococcaceae","c":"A2.24","v":-1.0},{"t":"42|f__Ruminococcaceae","c":"C2.17","v":0.2},{"t":"42|f__Ruminococcaceae","c":"C2.14","v":0.1},{"t":"42|f__Ruminococcaceae","c":"C2.15","v":-0.3},{"t":"42|f__Ruminococcaceae","c":"C2.18","v":2.7},{"t":"42|f__Ruminococcaceae","c":"C2.13","v":0.0},{"t":"42|f__Ruminococcaceae","c":"C2.16","v":1.5},
{"t":"43|g__Ruminococcus","c":"A2.22","v":-1.0},{"t":"43|g__Ruminococcus","c":"A2.19","v":-1.0},{"t":"43|g__Ruminococcus","c":"A2.20","v":-1.0},{"t":"43|g__Ruminococcus","c":"A2.23","v":-1.0},{"t":"43|g__Ruminococcus","c":"A2.21","v":-1.0},{"t":"43|g__Ruminococcus","c":"A2.24","v":-1.0},{"t":"43|g__Ruminococcus","c":"C2.17","v":0.0},{"t":"43|g__Ruminococcus","c":"C2.14","v":1.5},{"t":"43|g__Ruminococcus","c":"C2.15","v":0.1},{"t":"43|g__Ruminococcus","c":"C2.18","v":2.7},{"t":"43|g__Ruminococcus","c":"C2.13","v":0.1},{"t":"43|g__Ruminococcus","c":"C2.16","v":0.1},
{"t":"44|f__Mogibacteriacea","c":"A2.22","v":-1.0},{"t":"44|f__Mogibacteriacea","c":"A2.19","v":-1.0},{"t":"44|f__Mogibacteriacea","c":"A2.20","v":-1.0},{"t":"44|f__Mogibacteriacea","c":"A2.23","v":-1.0},{"t":"44|f__Mogibacteriacea","c":"A2.21","v":-1.0},{"t":"44|f__Mogibacteriacea","c":"A2.24","v":-1.0},{"t":"44|f__Mogibacteriacea","c":"C2.17","v":-1.0},{"t":"44|f__Mogibacteriacea","c":"C2.14","v":0.7},{"t":"44|f__Mogibacteriacea","c":"C2.15","v":0.7},{"t":"44|f__Mogibacteriacea","c":"C2.18","v":2.7},{"t":"44|f__Mogibacteriacea","c":"C2.13","v":0.7},{"t":"44|f__Mogibacteriacea","c":"C2.16","v":0.7},
{"t":"45|f__Mogibacteriacea","c":"A2.22","v":-1.0},{"t":"45|f__Mogibacteriacea","c":"A2.19","v":-1.0},{"t":"45|f__Mogibacteriacea","c":"A2.20","v":-1.0},{"t":"45|f__Mogibacteriacea","c":"A2.23","v":-1.0},{"t":"45|f__Mogibacteriacea","c":"A2.21","v":-1.0},{"t":"45|f__Mogibacteriacea","c":"A2.24","v":-1.0},{"t":"45|f__Mogibacteriacea","c":"C2.17","v":-1.0},{"t":"45|f__Mogibacteriacea","c":"C2.14","v":0.7},{"t":"45|f__Mogibacteriacea","c":"C2.15","v":0.7},{"t":"45|f__Mogibacteriacea","c":"C2.18","v":2.7},{"t":"45|f__Mogibacteriacea","c":"C2.13","v":0.7},{"t":"45|f__Mogibacteriacea","c":"C2.16","v":0.7},
{"t":"46|c__Bacilli","c":"A2.22","v":-1.0},{"t":"46|c__Bacilli","c":"A2.19","v":-1.0},{"t":"46|c__Bacilli","c":"A2.20","v":-1.1},{"t":"46|c__Bacilli","c":"A2.23","v":-1.0},{"t":"46|c__Bacilli","c":"A2.21","v":-1.0},{"t":"46|c__Bacilli","c":"A2.24","v":-0.5},{"t":"46|c__Bacilli","c":"C2.17","v":0.8},{"t":"46|c__Bacilli","c":"C2.14","v":-0.4},{"t":"46|c__Bacilli","c":"C2.15","v":-0.7},{"t":"46|c__Bacilli","c":"C2.18","v":0.3},{"t":"46|c__Bacilli","c":"C2.13","v":2.7},{"t":"46|c__Bacilli","c":"C2.16","v":1.3},
{"t":"47|o__Lactobacillales","c":"A2.22","v":-1.0},{"t":"47|o__Lactobacillales","c":"A2.19","v":-1.0},{"t":"47|o__Lactobacillales","c":"A2.20","v":-1.1},{"t":"47|o__Lactobacillales","c":"A2.23","v":-1.0},{"t":"47|o__Lactobacillales","c":"A2.21","v":-1.0},{"t":"47|o__Lactobacillales","c":"A2.24","v":-0.5},{"t":"47|o__Lactobacillales","c":"C2.17","v":0.9},{"t":"47|o__Lactobacillales","c":"C2.14","v":-0.3},{"t":"47|o__Lactobacillales","c":"C2.15","v":-0.7},{"t":"47|o__Lactobacillales","c":"C2.18","v":0.2},{"t":"47|o__Lactobacillales","c":"C2.13","v":2.7},{"t":"47|o__Lactobacillales","c":"C2.16","v":1.3},
{"t":"48|f__Lactobacillacea","c":"A2.22","v":-1.0},{"t":"48|f__Lactobacillacea","c":"A2.19","v":-1.0},{"t":"48|f__Lactobacillacea","c":"A2.20","v":-1.1},{"t":"48|f__Lactobacillacea","c":"A2.23","v":-1.0},{"t":"48|f__Lactobacillacea","c":"A2.21","v":-1.0},{"t":"48|f__Lactobacillacea","c":"A2.24","v":-0.5},{"t":"48|f__Lactobacillacea","c":"C2.17","v":0.9},{"t":"48|f__Lactobacillacea","c":"C2.14","v":-0.3},{"t":"48|f__Lactobacillacea","c":"C2.15","v":-0.7},{"t":"48|f__Lactobacillacea","c":"C2.18","v":0.2},{"t":"48|f__Lactobacillacea","c":"C2.13","v":2.7},{"t":"48|f__Lactobacillacea","c":"C2.16","v":1.3},
{"t":"49|g__Lactobacillus","c":"A2.22","v":-1.0},{"t":"49|g__Lactobacillus","c":"A2.19","v":-1.0},{"t":"49|g__Lactobacillus","c":"A2.20","v":-1.1},{"t":"49|g__Lactobacillus","c":"A2.23","v":-1.0},{"t":"49|g__Lactobacillus","c":"A2.21","v":-1.0},{"t":"49|g__Lactobacillus","c":"A2.24","v":-0.5},{"t":"49|g__Lactobacillus","c":"C2.17","v":0.9},{"t":"49|g__Lactobacillus","c":"C2.14","v":-0.3},{"t":"49|g__Lactobacillus","c":"C2.15","v":-0.7},{"t":"49|g__Lactobacillus","c":"C2.18","v":0.2},{"t":"49|g__Lactobacillus","c":"C2.13","v":2.7},{"t":"49|g__Lactobacillus","c":"C2.16","v":1.3},
{"t":"50|f__Lachnospiraceae","c":"A2.22","v":-1.0},{"t":"50|f__Lachnospiraceae","c":"A2.19","v":-1.0},{"t":"50|f__Lachnospiraceae","c":"A2.20","v":-1.0},{"t":"50|f__Lachnospiraceae","c":"A2.23","v":-1.0},{"t":"50|f__Lachnospiraceae","c":"A2.21","v":-1.0},{"t":"50|f__Lachnospiraceae","c":"A2.24","v":-0.9},{"t":"50|f__Lachnospiraceae","c":"C2.17","v":-0.3},{"t":"50|f__Lachnospiraceae","c":"C2.14","v":-0.3},{"t":"50|f__Lachnospiraceae","c":"C2.15","v":-0.7},{"t":"50|f__Lachnospiraceae","c":"C2.18","v":0.6},{"t":"50|f__Lachnospiraceae","c":"C2.13","v":3.0},{"t":"50|f__Lachnospiraceae","c":"C2.16","v":0.5},
{"t":"51|o__ClostridialesOt","c":"A2.22","v":-1.0},{"t":"51|o__ClostridialesOt","c":"A2.19","v":-1.0},{"t":"51|o__ClostridialesOt","c":"A2.20","v":-1.0},{"t":"51|o__ClostridialesOt","c":"A2.23","v":-1.0},{"t":"51|o__ClostridialesOt","c":"A2.21","v":-1.0},{"t":"51|o__ClostridialesOt","c":"A2.24","v":-1.0},{"t":"51|o__ClostridialesOt","c":"C2.17","v":0.3},{"t":"51|o__ClostridialesOt","c":"C2.14","v":-0.6},{"t":"51|o__ClostridialesOt","c":"C2.15","v":-0.6},{"t":"51|o__ClostridialesOt","c":"C2.18","v":0.2},{"t":"51|o__ClostridialesOt","c":"C2.13","v":2.8},{"t":"51|o__ClostridialesOt","c":"C2.16","v":1.4},
{"t":"52|o__ClostridialesOt","c":"A2.22","v":-1.0},{"t":"52|o__ClostridialesOt","c":"A2.19","v":-1.0},{"t":"52|o__ClostridialesOt","c":"A2.20","v":-1.0},{"t":"52|o__ClostridialesOt","c":"A2.23","v":-1.0},{"t":"52|o__ClostridialesOt","c":"A2.21","v":-1.0},{"t":"52|o__ClostridialesOt","c":"A2.24","v":-1.0},{"t":"52|o__ClostridialesOt","c":"C2.17","v":0.3},{"t":"52|o__ClostridialesOt","c":"C2.14","v":-0.6},{"t":"52|o__ClostridialesOt","c":"C2.15","v":-0.6},{"t":"52|o__ClostridialesOt","c":"C2.18","v":0.2},{"t":"52|o__ClostridialesOt","c":"C2.13","v":2.8},{"t":"52|o__ClostridialesOt","c":"C2.16","v":1.4},
{"t":"53|f__Erysipelotricha","c":"A2.22","v":-1.0},{"t":"53|f__Erysipelotricha","c":"A2.19","v":-1.0},{"t":"53|f__Erysipelotricha","c":"A2.20","v":-1.0},{"t":"53|f__Erysipelotricha","c":"A2.23","v":-1.0},{"t":"53|f__Erysipelotricha","c":"A2.21","v":-1.0},{"t":"53|f__Erysipelotricha","c":"A2.24","v":-1.0},{"t":"53|f__Erysipelotricha","c":"C2.17","v":0.7},{"t":"53|f__Erysipelotricha","c":"C2.14","v":0.7},{"t":"53|f__Erysipelotricha","c":"C2.15","v":0.7},{"t":"53|f__Erysipelotricha","c":"C2.18","v":-1.0},{"t":"53|f__Erysipelotricha","c":"C2.13","v":2.8},{"t":"53|f__Erysipelotricha","c":"C2.16","v":0.6},
{"t":"54|c__Erysipelotrichi","c":"A2.22","v":-1.0},{"t":"54|c__Erysipelotrichi","c":"A2.19","v":-1.0},{"t":"54|c__Erysipelotrichi","c":"A2.20","v":-1.0},{"t":"54|c__Erysipelotrichi","c":"A2.23","v":-1.0},{"t":"54|c__Erysipelotrichi","c":"A2.21","v":-1.0},{"t":"54|c__Erysipelotrichi","c":"A2.24","v":-1.0},{"t":"54|c__Erysipelotrichi","c":"C2.17","v":0.7},{"t":"54|c__Erysipelotrichi","c":"C2.14","v":0.7},{"t":"54|c__Erysipelotrichi","c":"C2.15","v":0.7},{"t":"54|c__Erysipelotrichi","c":"C2.18","v":-1.0},{"t":"54|c__Erysipelotrichi","c":"C2.13","v":2.8},{"t":"54|c__Erysipelotrichi","c":"C2.16","v":0.6},
{"t":"55|o__Erysipelotricha","c":"A2.22","v":-1.0},{"t":"55|o__Erysipelotricha","c":"A2.19","v":-1.0},{"t":"55|o__Erysipelotricha","c":"A2.20","v":-1.0},{"t":"55|o__Erysipelotricha","c":"A2.23","v":-1.0},{"t":"55|o__Erysipelotricha","c":"A2.21","v":-1.0},{"t":"55|o__Erysipelotricha","c":"A2.24","v":-1.0},{"t":"55|o__Erysipelotricha","c":"C2.17","v":0.7},{"t":"55|o__Erysipelotricha","c":"C2.14","v":0.7},{"t":"55|o__Erysipelotricha","c":"C2.15","v":0.7},{"t":"55|o__Erysipelotricha","c":"C2.18","v":-1.0},{"t":"55|o__Erysipelotricha","c":"C2.13","v":2.8},{"t":"55|o__Erysipelotricha","c":"C2.16","v":0.6},
{"t":"56|c__Gammaproteobact","c":"A2.22","v":-1.0},{"t":"56|c__Gammaproteobact","c":"A2.19","v":-0.5},{"t":"56|c__Gammaproteobact","c":"A2.20","v":-1.5},{"t":"56|c__Gammaproteobact","c":"A2.23","v":-1.0},{"t":"56|c__Gammaproteobact","c":"A2.21","v":0.2},{"t":"56|c__Gammaproteobact","c":"A2.24","v":-1.0},{"t":"56|c__Gammaproteobact","c":"C2.17","v":-0.4},{"t":"56|c__Gammaproteobact","c":"C2.14","v":0.6},{"t":"56|c__Gammaproteobact","c":"C2.15","v":2.0},{"t":"56|c__Gammaproteobact","c":"C2.18","v":-0.6},{"t":"56|c__Gammaproteobact","c":"C2.13","v":2.3},{"t":"56|c__Gammaproteobact","c":"C2.16","v":0.1},
{"t":"57|g__Pseudomonas","c":"A2.22","v":-1.1},{"t":"57|g__Pseudomonas","c":"A2.19","v":0.0},{"t":"57|g__Pseudomonas","c":"A2.20","v":-1.4},{"t":"57|g__Pseudomonas","c":"A2.23","v":-1.0},{"t":"57|g__Pseudomonas","c":"A2.21","v":-1.1},{"t":"57|g__Pseudomonas","c":"A2.24","v":-1.1},{"t":"57|g__Pseudomonas","c":"C2.17","v":0.1},{"t":"57|g__Pseudomonas","c":"C2.14","v":0.8},{"t":"57|g__Pseudomonas","c":"C2.15","v":1.9},{"t":"57|g__Pseudomonas","c":"C2.18","v":-0.3},{"t":"57|g__Pseudomonas","c":"C2.13","v":2.3},{"t":"57|g__Pseudomonas","c":"C2.16","v":0.6},
{"t":"58|o__Pseudomonadales","c":"A2.22","v":-1.1},{"t":"58|o__Pseudomonadales","c":"A2.19","v":0.0},{"t":"58|o__Pseudomonadales","c":"A2.20","v":-1.4},{"t":"58|o__Pseudomonadales","c":"A2.23","v":-1.0},{"t":"58|o__Pseudomonadales","c":"A2.21","v":-1.1},{"t":"58|o__Pseudomonadales","c":"A2.24","v":-1.1},{"t":"58|o__Pseudomonadales","c":"C2.17","v":0.1},{"t":"58|o__Pseudomonadales","c":"C2.14","v":0.8},{"t":"58|o__Pseudomonadales","c":"C2.15","v":1.9},{"t":"58|o__Pseudomonadales","c":"C2.18","v":-0.3},{"t":"58|o__Pseudomonadales","c":"C2.13","v":2.3},{"t":"58|o__Pseudomonadales","c":"C2.16","v":0.6},
{"t":"59|f__Pseudomonadacea","c":"A2.22","v":-1.1},{"t":"59|f__Pseudomonadacea","c":"A2.19","v":0.0},{"t":"59|f__Pseudomonadacea","c":"A2.20","v":-1.4},{"t":"59|f__Pseudomonadacea","c":"A2.23","v":-1.0},{"t":"59|f__Pseudomonadacea","c":"A2.21","v":-1.1},{"t":"59|f__Pseudomonadacea","c":"A2.24","v":-1.1},{"t":"59|f__Pseudomonadacea","c":"C2.17","v":0.1},{"t":"59|f__Pseudomonadacea","c":"C2.14","v":0.8},{"t":"59|f__Pseudomonadacea","c":"C2.15","v":1.9},{"t":"59|f__Pseudomonadacea","c":"C2.18","v":-0.3},{"t":"59|f__Pseudomonadacea","c":"C2.13","v":2.3},{"t":"59|f__Pseudomonadacea","c":"C2.16","v":0.6},
{"t":"60|p__Cyanobacteria","c":"A2.22","v":-1.0},{"t":"60|p__Cyanobacteria","c":"A2.19","v":-1.0},{"t":"60|p__Cyanobacteria","c":"A2.20","v":-1.0},{"t":"60|p__Cyanobacteria","c":"A2.23","v":-1.0},{"t":"60|p__Cyanobacteria","c":"A2.21","v":-1.0},{"t":"60|p__Cyanobacteria","c":"A2.24","v":-1.0},{"t":"60|p__Cyanobacteria","c":"C2.17","v":1.5},{"t":"60|p__Cyanobacteria","c":"C2.14","v":1.5},{"t":"60|p__Cyanobacteria","c":"C2.15","v":1.5},{"t":"60|p__Cyanobacteria","c":"C2.18","v":1.5},{"t":"60|p__Cyanobacteria","c":"C2.13","v":-1.0},{"t":"60|p__Cyanobacteria","c":"C2.16","v":-1.0},
{"t":"61|c__Alphaproteobact","c":"A2.22","v":-1.0},{"t":"61|c__Alphaproteobact","c":"A2.19","v":-1.0},{"t":"61|c__Alphaproteobact","c":"A2.20","v":-1.0},{"t":"61|c__Alphaproteobact","c":"A2.23","v":-1.0},{"t":"61|c__Alphaproteobact","c":"A2.21","v":-1.0},{"t":"61|c__Alphaproteobact","c":"A2.24","v":-1.0},{"t":"61|c__Alphaproteobact","c":"C2.17","v":1.6},{"t":"61|c__Alphaproteobact","c":"C2.14","v":1.6},{"t":"61|c__Alphaproteobact","c":"C2.15","v":1.6},{"t":"61|c__Alphaproteobact","c":"C2.18","v":1.6},{"t":"61|c__Alphaproteobact","c":"C2.13","v":-1.0},{"t":"61|c__Alphaproteobact","c":"C2.16","v":-1.0},
{"t":"62|g__Dorea","c":"A2.22","v":-1.0},{"t":"62|g__Dorea","c":"A2.19","v":-1.0},{"t":"62|g__Dorea","c":"A2.20","v":-1.0},{"t":"62|g__Dorea","c":"A2.23","v":-1.0},{"t":"62|g__Dorea","c":"A2.21","v":-1.0},{"t":"62|g__Dorea","c":"A2.24","v":-1.0},{"t":"62|g__Dorea","c":"C2.17","v":3.0},{"t":"62|g__Dorea","c":"C2.14","v":0.0},{"t":"62|g__Dorea","c":"C2.15","v":0.7},{"t":"62|g__Dorea","c":"C2.18","v":1.0},{"t":"62|g__Dorea","c":"C2.13","v":-0.8},{"t":"62|g__Dorea","c":"C2.16","v":0.4},
{"t":"63|p__Tenericutes","c":"A2.22","v":-0.9},{"t":"63|p__Tenericutes","c":"A2.19","v":-0.9},{"t":"63|p__Tenericutes","c":"A2.20","v":-0.9},{"t":"63|p__Tenericutes","c":"A2.23","v":-0.9},{"t":"63|p__Tenericutes","c":"A2.21","v":-0.9},{"t":"63|p__Tenericutes","c":"A2.24","v":-0.9},{"t":"63|p__Tenericutes","c":"C2.17","v":2.8},{"t":"63|p__Tenericutes","c":"C2.14","v":-0.7},{"t":"63|p__Tenericutes","c":"C2.15","v":0.7},{"t":"63|p__Tenericutes","c":"C2.18","v":0.7},{"t":"63|p__Tenericutes","c":"C2.13","v":-0.8},{"t":"63|p__Tenericutes","c":"C2.16","v":0.7},
{"t":"64|c__Mollicutes","c":"A2.22","v":-0.9},{"t":"64|c__Mollicutes","c":"A2.19","v":-0.9},{"t":"64|c__Mollicutes","c":"A2.20","v":-0.9},{"t":"64|c__Mollicutes","c":"A2.23","v":-0.9},{"t":"64|c__Mollicutes","c":"A2.21","v":-0.9},{"t":"64|c__Mollicutes","c":"A2.24","v":-0.9},{"t":"64|c__Mollicutes","c":"C2.17","v":2.8},{"t":"64|c__Mollicutes","c":"C2.14","v":-0.7},{"t":"64|c__Mollicutes","c":"C2.15","v":0.7},{"t":"64|c__Mollicutes","c":"C2.18","v":0.7},{"t":"64|c__Mollicutes","c":"C2.13","v":-0.8},{"t":"64|c__Mollicutes","c":"C2.16","v":0.7},
{"t":"65|g__Clostridium","c":"A2.22","v":-0.9},{"t":"65|g__Clostridium","c":"A2.19","v":-0.9},{"t":"65|g__Clostridium","c":"A2.20","v":-0.9},{"t":"65|g__Clostridium","c":"A2.23","v":-0.9},{"t":"65|g__Clostridium","c":"A2.21","v":-0.9},{"t":"65|g__Clostridium","c":"A2.24","v":-0.9},{"t":"65|g__Clostridium","c":"C2.17","v":3.0},{"t":"65|g__Clostridium","c":"C2.14","v":0.6},{"t":"65|g__Clostridium","c":"C2.15","v":-0.2},{"t":"65|g__Clostridium","c":"C2.18","v":-0.7},{"t":"65|g__Clostridium","c":"C2.13","v":-0.3},{"t":"65|g__Clostridium","c":"C2.16","v":0.0},
{"t":"66|g__Roseburia","c":"A2.22","v":-0.8},{"t":"66|g__Roseburia","c":"A2.19","v":-0.8},{"t":"66|g__Roseburia","c":"A2.20","v":-0.8},{"t":"66|g__Roseburia","c":"A2.23","v":-0.8},{"t":"66|g__Roseburia","c":"A2.21","v":-0.8},{"t":"66|g__Roseburia","c":"A2.24","v":-0.8},{"t":"66|g__Roseburia","c":"C2.17","v":3.0},{"t":"66|g__Roseburia","c":"C2.14","v":-0.3},{"t":"66|g__Roseburia","c":"C2.15","v":-0.3},{"t":"66|g__Roseburia","c":"C2.18","v":-0.6},{"t":"66|g__Roseburia","c":"C2.13","v":0.6},{"t":"66|g__Roseburia","c":"C2.16","v":-0.2},
{"t":"67|f__Clostridiaceae","c":"A2.22","v":-1.1},{"t":"67|f__Clostridiaceae","c":"A2.19","v":-1.1},{"t":"67|f__Clostridiaceae","c":"A2.20","v":-1.1},{"t":"67|f__Clostridiaceae","c":"A2.23","v":-1.1},{"t":"67|f__Clostridiaceae","c":"A2.21","v":-1.1},{"t":"67|f__Clostridiaceae","c":"A2.24","v":-1.1},{"t":"67|f__Clostridiaceae","c":"C2.17","v":2.4},{"t":"67|f__Clostridiaceae","c":"C2.14","v":1.8},{"t":"67|f__Clostridiaceae","c":"C2.15","v":0.1},{"t":"67|f__Clostridiaceae","c":"C2.18","v":-0.7},{"t":"67|f__Clostridiaceae","c":"C2.13","v":-0.3},{"t":"67|f__Clostridiaceae","c":"C2.16","v":0.1},
{"t":"68|g__Coprococcus","c":"A2.22","v":-1.2},{"t":"68|g__Coprococcus","c":"A2.19","v":-1.2},{"t":"68|g__Coprococcus","c":"A2.20","v":-1.2},{"t":"68|g__Coprococcus","c":"A2.23","v":-1.2},{"t":"68|g__Coprococcus","c":"A2.21","v":-1.2},{"t":"68|g__Coprococcus","c":"A2.24","v":-1.2},{"t":"68|g__Coprococcus","c":"C2.17","v":2.0},{"t":"68|g__Coprococcus","c":"C2.14","v":1.8},{"t":"68|g__Coprococcus","c":"C2.15","v":1.0},{"t":"68|g__Coprococcus","c":"C2.18","v":0.4},{"t":"68|g__Coprococcus","c":"C2.13","v":-0.7},{"t":"68|g__Coprococcus","c":"C2.16","v":-0.2},
{"t":"69|g__Turicibacter","c":"A2.22","v":-0.9},{"t":"69|g__Turicibacter","c":"A2.19","v":-0.9},{"t":"69|g__Turicibacter","c":"A2.20","v":-0.9},{"t":"69|g__Turicibacter","c":"A2.23","v":-0.9},{"t":"69|g__Turicibacter","c":"A2.21","v":-0.9},{"t":"69|g__Turicibacter","c":"A2.24","v":-0.9},{"t":"69|g__Turicibacter","c":"C2.17","v":0.7},{"t":"69|g__Turicibacter","c":"C2.14","v":2.9},{"t":"69|g__Turicibacter","c":"C2.15","v":0.8},{"t":"69|g__Turicibacter","c":"C2.18","v":-0.2},{"t":"69|g__Turicibacter","c":"C2.13","v":-0.7},{"t":"69|g__Turicibacter","c":"C2.16","v":-0.5},
{"t":"70|o__Turicibacterale","c":"A2.22","v":-0.9},{"t":"70|o__Turicibacterale","c":"A2.19","v":-0.9},{"t":"70|o__Turicibacterale","c":"A2.20","v":-0.9},{"t":"70|o__Turicibacterale","c":"A2.23","v":-0.9},{"t":"70|o__Turicibacterale","c":"A2.21","v":-0.9},{"t":"70|o__Turicibacterale","c":"A2.24","v":-0.9},{"t":"70|o__Turicibacterale","c":"C2.17","v":0.7},{"t":"70|o__Turicibacterale","c":"C2.14","v":2.9},{"t":"70|o__Turicibacterale","c":"C2.15","v":0.8},{"t":"70|o__Turicibacterale","c":"C2.18","v":-0.2},{"t":"70|o__Turicibacterale","c":"C2.13","v":-0.7},{"t":"70|o__Turicibacterale","c":"C2.16","v":-0.5},
{"t":"71|f__Turicibacterace","c":"A2.22","v":-0.9},{"t":"71|f__Turicibacterace","c":"A2.19","v":-0.9},{"t":"71|f__Turicibacterace","c":"A2.20","v":-0.9},{"t":"71|f__Turicibacterace","c":"A2.23","v":-0.9},{"t":"71|f__Turicibacterace","c":"A2.21","v":-0.9},{"t":"71|f__Turicibacterace","c":"A2.24","v":-0.9},{"t":"71|f__Turicibacterace","c":"C2.17","v":0.7},{"t":"71|f__Turicibacterace","c":"C2.14","v":2.9},{"t":"71|f__Turicibacterace","c":"C2.15","v":0.8},{"t":"71|f__Turicibacterace","c":"C2.18","v":-0.2},{"t":"71|f__Turicibacterace","c":"C2.13","v":-0.7},{"t":"71|f__Turicibacterace","c":"C2.16","v":-0.5},
{"t":"72|f__Clostridiaceaeg","c":"A2.22","v":-0.9},{"t":"72|f__Clostridiaceaeg","c":"A2.19","v":-0.9},{"t":"72|f__Clostridiaceaeg","c":"A2.20","v":-0.9},{"t":"72|f__Clostridiaceaeg","c":"A2.23","v":0.0},{"t":"72|f__Clostridiaceaeg","c":"A2.21","v":-0.9},{"t":"72|f__Clostridiaceaeg","c":"A2.24","v":-0.9},{"t":"72|f__Clostridiaceaeg","c":"C2.17","v":1.3},{"t":"72|f__Clostridiaceaeg","c":"C2.14","v":2.9},{"t":"72|f__Clostridiaceaeg","c":"C2.15","v":-0.4},{"t":"72|f__Clostridiaceaeg","c":"C2.18","v":-0.3},{"t":"72|f__Clostridiaceaeg","c":"C2.13","v":-0.6},{"t":"72|f__Clostridiaceaeg","c":"C2.16","v":-0.4},
{"t":"73|f__Peptostreptococ","c":"A2.22","v":-0.9},{"t":"73|f__Peptostreptococ","c":"A2.19","v":-0.9},{"t":"73|f__Peptostreptococ","c":"A2.20","v":-0.9},{"t":"73|f__Peptostreptococ","c":"A2.23","v":-0.5},{"t":"73|f__Peptostreptococ","c":"A2.21","v":-0.9},{"t":"73|f__Peptostreptococ","c":"A2.24","v":-0.9},{"t":"73|f__Peptostreptococ","c":"C2.17","v":0.7},{"t":"73|f__Peptostreptococ","c":"C2.14","v":3.0},{"t":"73|f__Peptostreptococ","c":"C2.15","v":0.2},{"t":"73|f__Peptostreptococ","c":"C2.18","v":-0.5},{"t":"73|f__Peptostreptococ","c":"C2.13","v":-0.6},{"t":"73|f__Peptostreptococ","c":"C2.16","v":-0.7},
{"t":"74|f__Peptostreptococ","c":"A2.22","v":-0.9},{"t":"74|f__Peptostreptococ","c":"A2.19","v":-0.9},{"t":"74|f__Peptostreptococ","c":"A2.20","v":-0.9},{"t":"74|f__Peptostreptococ","c":"A2.23","v":-0.5},{"t":"74|f__Peptostreptococ","c":"A2.21","v":-0.9},{"t":"74|f__Peptostreptococ","c":"A2.24","v":-0.9},{"t":"74|f__Peptostreptococ","c":"C2.17","v":0.7},{"t":"74|f__Peptostreptococ","c":"C2.14","v":3.0},{"t":"74|f__Peptostreptococ","c":"C2.15","v":0.2},{"t":"74|f__Peptostreptococ","c":"C2.18","v":-0.5},{"t":"74|f__Peptostreptococ","c":"C2.13","v":-0.6},{"t":"74|f__Peptostreptococ","c":"C2.16","v":-0.7},
{"t":"75|g__[Prevotella]","c":"A2.22","v":-1.0},{"t":"75|g__[Prevotella]","c":"A2.19","v":-1.0},{"t":"75|g__[Prevotella]","c":"A2.20","v":-1.0},{"t":"75|g__[Prevotella]","c":"A2.23","v":-1.0},{"t":"75|g__[Prevotella]","c":"A2.21","v":-1.0},{"t":"75|g__[Prevotella]","c":"A2.24","v":-1.0},{"t":"75|g__[Prevotella]","c":"C2.17","v":-0.6},{"t":"75|g__[Prevotella]","c":"C2.14","v":2.5},{"t":"75|g__[Prevotella]","c":"C2.15","v":1.5},{"t":"75|g__[Prevotella]","c":"C2.18","v":-0.7},{"t":"75|g__[Prevotella]","c":"C2.13","v":-0.3},{"t":"75|g__[Prevotella]","c":"C2.16","v":0.7},
{"t":"76|o__Bacteroidalesf","c":"A2.22","v":-1.1},{"t":"76|o__Bacteroidalesf","c":"A2.19","v":-1.1},{"t":"76|o__Bacteroidalesf","c":"A2.20","v":-1.1},{"t":"76|o__Bacteroidalesf","c":"A2.23","v":-1.1},{"t":"76|o__Bacteroidalesf","c":"A2.21","v":-1.1},{"t":"76|o__Bacteroidalesf","c":"A2.24","v":-1.1},{"t":"76|o__Bacteroidalesf","c":"C2.17","v":-0.6},{"t":"76|o__Bacteroidalesf","c":"C2.14","v":1.8},{"t":"76|o__Bacteroidalesf","c":"C2.15","v":1.8},{"t":"76|o__Bacteroidalesf","c":"C2.18","v":0.0},{"t":"76|o__Bacteroidalesf","c":"C2.13","v":0.0},{"t":"76|o__Bacteroidalesf","c":"C2.16","v":1.8},
{"t":"77|o__Bacteroidalesf_","c":"A2.22","v":-1.1},{"t":"77|o__Bacteroidalesf_","c":"A2.19","v":-1.1},{"t":"77|o__Bacteroidalesf_","c":"A2.20","v":-1.1},{"t":"77|o__Bacteroidalesf_","c":"A2.23","v":-1.1},{"t":"77|o__Bacteroidalesf_","c":"A2.21","v":-1.1},{"t":"77|o__Bacteroidalesf_","c":"A2.24","v":-1.1},{"t":"77|o__Bacteroidalesf_","c":"C2.17","v":-0.6},{"t":"77|o__Bacteroidalesf_","c":"C2.14","v":1.8},{"t":"77|o__Bacteroidalesf_","c":"C2.15","v":1.8},{"t":"77|o__Bacteroidalesf_","c":"C2.18","v":0.0},{"t":"77|o__Bacteroidalesf_","c":"C2.13","v":0.0},{"t":"77|o__Bacteroidalesf_","c":"C2.16","v":1.8}
]
},
"layer":[
{"data":{"name":"coltree"},"mark":{"type":"rule","color":"#333333","strokeWidth":1},
 "encoding":{
  "x":{"field":"x","type":"quantitative","scale":{"domain":[0,12],"range":[67,568],"nice":false,"zero":false},"axis":null},
  "x2":{"field":"x2"},
  "y":{"field":"y","type":"quantitative","scale":{"domain":[0,67.1],"range":[68.3,1.2],"nice":false,"zero":false},"axis":null},
  "y2":{"field":"y2"}}},
{"data":{"name":"rowtree"},"mark":{"type":"rule","color":"#333333","strokeWidth":1},
 "encoding":{
  "x":{"field":"x","type":"quantitative","scale":{"domain":[0,65],"range":[66.5,1.7],"nice":false,"zero":false},"axis":null},
  "x2":{"field":"x2"},
  "y":{"field":"y","type":"quantitative","scale":{"domain":[0,78],"range":[83,767],"nice":false,"zero":false},"axis":null},
  "y2":{"field":"y2"}}},
{"data":{"name":"cls"},"mark":{"type":"rect","stroke":"#999999","strokeWidth":1},
 "encoding":{
  "x":{"field":"c","type":"nominal","scale":{"domain":["A2.22","A2.19","A2.20","A2.23","A2.21","A2.24","C2.17","C2.14","C2.15","C2.18","C2.13","C2.16"],"range":[67,568],"paddingInner":0,"paddingOuter":0},"axis":null},
  "y":{"field":"k","type":"nominal","scale":{"range":[69.3,80],"paddingInner":0,"paddingOuter":0},"axis":{"orient":"right","title":null,"ticks":false,"domain":false,"labelFontWeight":"bold","labelFontSize":10,"labelPadding":4,"labelColor":"black","labelFont":"Liberation Sans"}},
  "color":{"field":"g","type":"nominal","scale":{"domain":["1Control","2Amoxicillin"],"range":["#FF0000","#00CD00"]},
   "legend":{"orient":"none","legendX":635,"legendY":2,"title":"class","titleFontWeight":"bold","titleFontSize":10,"titleFont":"Liberation Sans","titleColor":"black","titlePadding":2,"symbolType":"square","symbolSize":155,"symbolStrokeColor":"#999999","symbolStrokeWidth":1,"symbolOpacity":1,"labelFontSize":10,"labelFont":"Liberation Sans","labelColor":"black","labelOffset":3,"rowPadding":0,"clipHeight":12.7,"padding":0}}}},
{"data":{"name":"cells"},"mark":{"type":"rect","stroke":"#999999","strokeWidth":1},
 "encoding":{
  "x":{"field":"c","type":"nominal","scale":{"domain":["A2.22","A2.19","A2.20","A2.23","A2.21","A2.24","C2.17","C2.14","C2.15","C2.18","C2.13","C2.16"],"range":[67,568],"paddingInner":0,"paddingOuter":0},
   "axis":{"orient":"bottom","title":null,"ticks":false,"domain":false,"labelAngle":90,"labelAlign":"left","labelBaseline":"middle","labelFontSize":10,"labelFont":"Liberation Sans","labelColor":"black","labelPadding":3}},
  "y":{"field":"t","type":"nominal","sort":null,"scale":{"range":[83,767],"paddingInner":0,"paddingOuter":0},
   "axis":{"orient":"right","title":null,"ticks":false,"domain":false,"labelExpr":"split(datum.value,'|')[1]","labelFontSize":10,"labelFont":"Liberation Sans","labelColor":"black","labelPadding":4,"labelOverlap":false,"labelBaseline":"middle"}},
  "color":{"field":"v","type":"quantitative","scale":{"domain":[-3,-2.4,-1.8,-1.2,-0.6,0,0.6,1.2,1.8,2.4,3],"range":["#053061","#2166AC","#4393C3","#92C5DE","#D1E5F0","#EAE6E3","#FDDBC7","#F4A582","#D6604D","#B2182B","#67001F"]},
   "legend":{"orient":"none","legendX":685.5,"legendY":84,"title":null,"direction":"vertical","gradientLength":138,"gradientThickness":10.5,"gradientStrokeWidth":0,"values":[-3,-2,-1,0,1,2,3],"labelExpr":"datum.value < 0 ? '-' + abs(datum.value) : '' + datum.value","labelFontSize":9,"labelFont":"Liberation Sans","labelColor":"#333333","labelOffset":4,"padding":0}}}}
],
"resolve":{"scale":{"x":"independent","y":"independent","color":"independent"},"axis":{"x":"independent","y":"independent"},"legend":{"color":"independent"}}
}
